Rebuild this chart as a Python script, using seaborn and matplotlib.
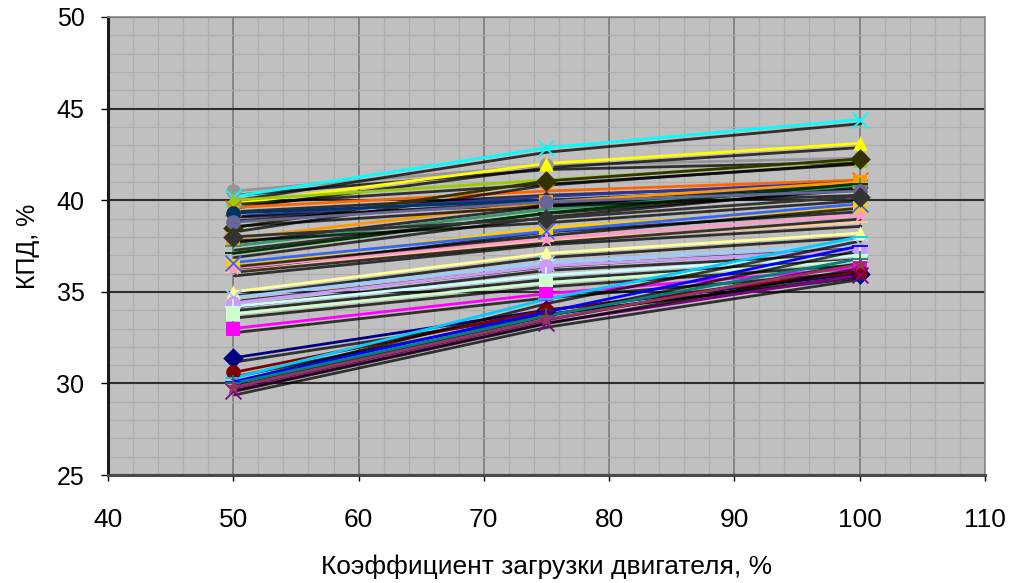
import matplotlib
matplotlib.use("Agg")
import matplotlib.pyplot as plt
import matplotlib.patheffects as pe
from matplotlib.ticker import MultipleLocator
import seaborn as sns
import pandas as pd

# Engine load levels, % of rated
load = [50, 75, 100]

# Efficiency (КПД, %) of each engine at 50 / 75 / 100 % load
eff_01 = [40.5, 41.9, 42.3]
eff_02 = [39.8, 42.0, 43.1]
eff_03 = [40.2, 42.85, 44.4]
eff_04 = [40.0, 41.1, 42.2]
eff_05 = [39.6, 40.5, 41.1]
eff_06 = [38.5, 41.05, 42.25]
eff_07 = [39.1, 40.2, 41.0]
eff_08 = [39.3, 40.0, 40.8]
eff_09 = [37.9, 39.9, 41.0]
eff_10 = [37.5, 39.5, 40.8]
eff_11 = [37.1, 39.3, 40.9]
eff_12 = [38.8, 39.9, 40.5]
eff_13 = [36.4, 38.5, 39.6]
eff_14 = [36.1, 37.8, 38.8]
eff_15 = [36.3, 37.9, 39.2]
eff_16 = [36.6, 38.3, 39.8]
eff_17 = [35.0, 37.1, 38.2]
eff_18 = [34.7, 36.6, 37.6]
eff_19 = [34.4, 36.4, 37.3]
eff_20 = [34.2, 35.9, 37.0]
eff_21 = [33.8, 35.5, 36.7]
eff_22 = [33.0, 34.9, 36.3]
eff_23 = [31.4, 34.0, 36.0]
eff_24 = [30.6, 34.0, 36.1]
eff_25 = [30.3, 34.6, 38.0]
eff_26 = [30.1, 33.9, 37.5]
eff_27 = [29.6, 33.3, 35.9]
eff_28 = [30.0, 33.7, 36.8]
eff_29 = [29.8, 33.5, 36.5]
eff_30 = [38.0, 39.0, 40.2]

series = [eff_01, eff_02, eff_03, eff_04, eff_05, eff_06, eff_07, eff_08,
          eff_09, eff_10, eff_11, eff_12, eff_13, eff_14, eff_15, eff_16,
          eff_17, eff_18, eff_19, eff_20, eff_21, eff_22, eff_23, eff_24,
          eff_25, eff_26, eff_27, eff_28, eff_29, eff_30]

colors = ["#969696", "#FFFF00", "#00FFFF", "#99CC00", "#FF6600", "#333300",
          "#333399", "#003366", "#FF9900", "#339966", "#003300", "#666699",
          "#FFCC00", "#FFCC99", "#FF99CC", "#3366FF", "#FFFF99", "#99CCFF",
          "#CC99FF", "#CCFFFF", "#CCFFCC", "#FF00FF", "#000080", "#800000",
          "#00CCFF", "#0000FF", "#800080", "#008080", "#993366", "#333333"]
markers = ["o", "^", "x", "^", "x", "D", "*", "o", "s", "+", "_", "o",
           "s", "_", "*", "x", "^", "x", "o", "+", "s", "s", "D", "o",
           "_", "_", "x", "+", "*", "D"]

x_ticks = [40, 50, 60, 70, 80, 90, 100, 110]
y_ticks = [25, 30, 35, 40, 45, 50]

sns.set_theme(style="white")
plt.rcParams["font.family"] = ["Liberation Sans", "DejaVu Sans"]

fig = plt.figure(figsize=(10.1, 5.83), dpi=100)
ax = fig.add_axes([0.107, 0.185, 0.868, 0.786])
ax.set_facecolor("#C0C0C0")

# dark drop shadow under every line
shadow = [pe.SimpleLineShadow(offset=(1.0, -3.0), shadow_color="black", alpha=0.75),
          pe.Normal()]

for i, (vals, col, mk) in enumerate(zip(series, colors, markers)):
    df = pd.DataFrame({"load": load, "eff": vals})
    sns.lineplot(data=df, x="load", y="eff", ax=ax, color=col, linewidth=2.0,
                 zorder=3 + i * 0.01)
    ax.lines[-1].set_path_effects(shadow)

for i, (vals, col, mk) in enumerate(zip(series, colors, markers)):
    df = pd.DataFrame({"load": load, "eff": vals})
    filled = mk not in ("x", "+", "_")
    if filled:
        sns.scatterplot(data=df, x="load", y="eff", ax=ax, color=col, marker=mk,
                        s=110 if mk != "*" else 150, linewidth=0, zorder=4 + i * 0.01)
    else:
        sns.scatterplot(data=df, x="load", y="eff", ax=ax, color=col, marker=mk,
                        s=130, linewidth=1.3, zorder=4 + i * 0.01)

ax.set_xlim(40, 110)
ax.set_ylim(25, 50)
ax.set_xticks(x_ticks)
ax.set_yticks(y_ticks)
ax.xaxis.set_minor_locator(MultipleLocator(2))
ax.yaxis.set_minor_locator(MultipleLocator(1))

ax.grid(which="minor", color="#AEAEAE", linewidth=0.9, zorder=0)
ax.grid(which="major", axis="x", color="#858585", linewidth=1.4, zorder=0)
ax.grid(which="major", axis="y", color="#2E2E2E", linewidth=1.5, zorder=0)
ax.set_axisbelow(True)

for side in ("top", "right"):
    ax.spines[side].set_color("#8A8A8A")
    ax.spines[side].set_linewidth(1.2)
ax.spines["left"].set_color("#1A1A1A")
ax.spines["left"].set_linewidth(2.2)
ax.spines["bottom"].set_color("#4A4A4A")
ax.spines["bottom"].set_linewidth(2.2)

ax.tick_params(axis="y", which="major", direction="out", length=5, width=1,
               color="black", left=True, pad=12, labelsize=18, labelcolor="black")
ax.tick_params(axis="x", which="major", direction="out", length=4, width=1,
               color="black", bottom=True, pad=20, labelsize=19, labelcolor="black")
ax.tick_params(which="minor", length=0)

ax.set_xlabel("Коэффициент загрузки двигателя, %", fontsize=19, labelpad=16,
              color="black")
ax.set_ylabel("КПД, %", fontsize=18, labelpad=12, color="black")

fig.savefig("out.png", dpi=100, facecolor="white")
